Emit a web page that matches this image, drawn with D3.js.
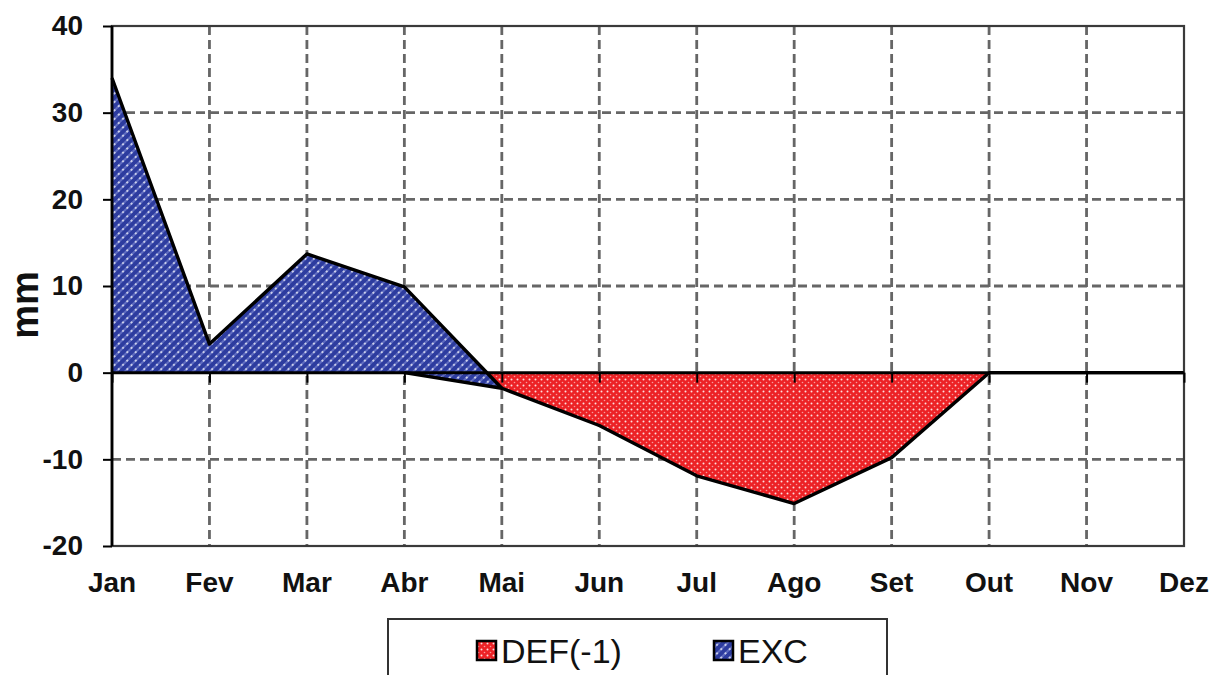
<!DOCTYPE html>
<html>
<head>
<meta charset="utf-8">
<script src="https://cdn.jsdelivr.net/npm/d3@7"></script>
<style>
  html, body { margin: 0; padding: 0; background: #fff; }
  svg { display: block; font-family: Arial, "Liberation Sans", sans-serif; }
</style>
</head>
<body>
<svg id="chart" width="1217" height="675"></svg>
<script>
const months = ["Jan","Fev","Mar","Abr","Mai","Jun","Jul","Ago","Set","Out","Nov","Dez"];
const defValues = [0, 0, 0, 0, -1.8, -6.1, -11.9, -15.1, -9.8, 0, 0, 0];
const excValues = [34, 3.3, 13.7, 9.9, 0, 0, 0, 0, 0, 0, 0, 0];
const yTicks = [-20, -10, 0, 10, 20, 30, 40];
const legendLabels = ["DEF(-1)", "EXC"];

const svg = d3.select("#chart");
const L = 112, R = 1184, T = 26, B = 546;

const x = d3.scalePoint().domain(months).range([L, R]);
const y = d3.scaleLinear().domain([-20, 40]).range([B, T]);

const defs = svg.append("defs");
// red dotted pattern
const pr = defs.append("pattern").attr("id", "redPat").attr("patternUnits", "userSpaceOnUse")
  .attr("width", 6).attr("height", 6);
pr.append("rect").attr("width", 6).attr("height", 6).attr("fill", "#ec2226");
pr.append("circle").attr("cx", 1.5).attr("cy", 1.5).attr("r", 1).attr("fill", "#fff").attr("opacity", 0.85);
pr.append("circle").attr("cx", 4.5).attr("cy", 4.5).attr("r", 0.8).attr("fill", "#fff").attr("opacity", 0.55);
// blue diagonal dotted pattern
const pb = defs.append("pattern").attr("id", "bluePat").attr("patternUnits", "userSpaceOnUse")
  .attr("width", 6).attr("height", 6).attr("patternTransform", "rotate(-45)");
pb.append("rect").attr("width", 6).attr("height", 6).attr("fill", "#2d3c9f");
pb.append("rect").attr("x", 0).attr("y", 2.4).attr("width", 6).attr("height", 1.2).attr("fill", "#7f8cd6");
pb.append("circle").attr("cx", 3).attr("cy", 3).attr("r", 0.9).attr("fill", "#fff");

// gridlines
const grid = svg.append("g").attr("stroke", "#666").attr("stroke-width", 2.8)
  .attr("stroke-dasharray", "9,5").attr("fill", "none");
grid.selectAll("line.h").data(yTicks.filter(v => v !== -20 && v !== 40 && v !== 0))
  .join("line").attr("x1", L).attr("x2", R).attr("y1", d => y(d)).attr("y2", d => y(d));
grid.selectAll("line.v").data(months.slice(1, 11))
  .join("line").attr("x1", d => x(d)).attr("x2", d => x(d)).attr("y1", T).attr("y2", B);

// areas
const pts = months.map((m, i) => ({ m, def: defValues[i], exc: excValues[i] }));
const areaDef = d3.area().x(d => x(d.m)).y0(y(0)).y1(d => y(d.def));
const areaExc = d3.area().x(d => x(d.m)).y0(d => y(d.def)).y1(d => y(d.def + d.exc));
svg.append("path").datum(pts).attr("d", areaDef).attr("fill", "url(#redPat)");
svg.append("path").datum(pts.slice(0, 5)).attr("d", areaExc).attr("fill", "url(#bluePat)");

// lines
const lineDef = d3.line().x(d => x(d.m)).y(d => y(d.def));
const lineExc = d3.line().x(d => x(d.m)).y(d => y(d.def + d.exc));
svg.append("path").datum(pts.slice(0, 5)).attr("d", lineExc).attr("fill", "none")
  .attr("stroke", "#000").attr("stroke-width", 3.4).attr("stroke-linejoin", "round");
svg.append("path").datum(pts.slice(3)).attr("d", lineDef).attr("fill", "none")
  .attr("stroke", "#000").attr("stroke-width", 3.4).attr("stroke-linejoin", "round");

// plot border
svg.append("rect").attr("x", L).attr("y", T).attr("width", R - L).attr("height", B - T)
  .attr("fill", "none").attr("stroke", "#3a3a3a").attr("stroke-width", 2.2);

// zero axis with ticks
const xAxis = svg.append("g").attr("transform", `translate(0,${y(0)})`)
  .call(d3.axisBottom(x).tickSize(10).tickFormat(""));
xAxis.select(".domain").attr("stroke", "#000").attr("stroke-width", 3).attr("d", `M${L},0H${R}`);
xAxis.selectAll(".tick line").attr("stroke", "#000").attr("stroke-width", 2);

// x labels
svg.append("g").selectAll("text").data(months).join("text")
  .attr("x", d => x(d)).attr("y", 592)
  .attr("text-anchor", "middle").attr("font-weight", "bold").attr("font-size", 28)
  .attr("fill", "#111").text(d => d);

// y axis
const yAxis = svg.append("g").attr("transform", `translate(${L},0)`)
  .call(d3.axisLeft(y).tickValues(yTicks).tickSize(9).tickPadding(20).tickFormat(d => String(d)));
yAxis.select(".domain").attr("stroke", "#000").attr("stroke-width", 2.8).attr("d", `M0,${T}V${B}`);
yAxis.selectAll(".tick line").attr("stroke", "#000").attr("stroke-width", 2);
yAxis.selectAll(".tick text").attr("font-size", 28).attr("font-weight", "bold")
  .attr("fill", "#111").attr("font-family", "Arial, 'Liberation Sans', sans-serif");

// y title
svg.append("text").attr("transform", "translate(38,305) rotate(-90)")
  .attr("text-anchor", "middle").attr("font-size", 38).attr("font-weight", "bold")
  .attr("fill", "#111").text("mm");

// legend
svg.append("rect").attr("x", 388).attr("y", 619).attr("width", 499).attr("height", 80)
  .attr("fill", "#fff").attr("stroke", "#333").attr("stroke-width", 2);
const legend = [
  { label: legendLabels[0], fill: "url(#redPat)", sx: 477, tx: 501 },
  { label: legendLabels[1], fill: "url(#bluePat)", sx: 714, tx: 738 }
];
const lg = svg.append("g").selectAll("g").data(legend).join("g");
lg.append("rect").attr("x", d => d.sx).attr("y", 641).attr("width", 19).attr("height", 19)
  .attr("fill", d => d.fill).attr("stroke", "#000").attr("stroke-width", 2.5);
lg.append("text").attr("x", d => d.tx).attr("y", 663).attr("font-size", 34)
  .attr("fill", "#111").text(d => d.label);
</script>
</body>
</html>
